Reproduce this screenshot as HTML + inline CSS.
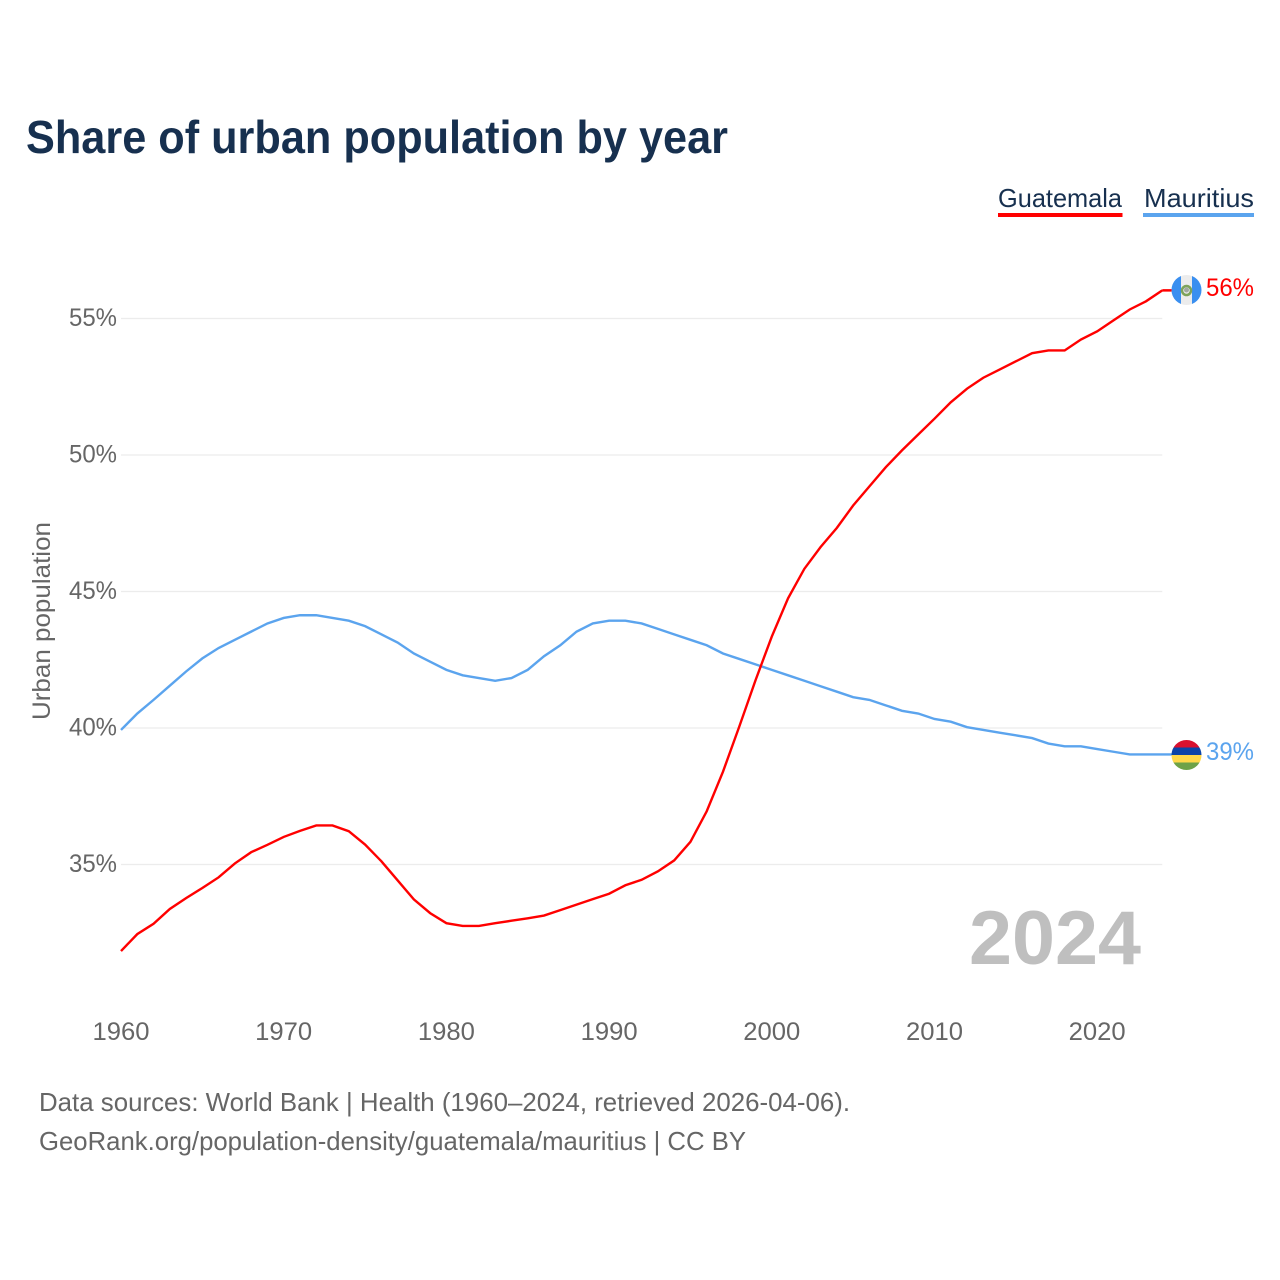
<!DOCTYPE html>
<html lang="en">
<head>
<meta charset="utf-8">
<title>Share of urban population by year</title>
<style>
html,body{margin:0;padding:0;background:#fff;}
svg{display:block;font-family:"Liberation Sans",sans-serif;}
</style>
</head>
<body>
<svg id="chart" xmlns="http://www.w3.org/2000/svg" width="1280" height="1280" viewBox="0 0 1280 1280">
  <rect x="0" y="0" width="1280" height="1280" fill="#ffffff"/>
  <text x="26" y="153" font-size="46" font-weight="700" fill="#17304f" textLength="702" lengthAdjust="spacingAndGlyphs">Share of urban population by year</text>

  <g>
    <text x="998" y="207" font-size="26" fill="#17304f" textLength="124" lengthAdjust="spacingAndGlyphs">Guatemala</text>
    <rect x="998" y="213" width="124.500" height="4" fill="#ff0000"/>
  </g>
  <g>
    <text x="1144" y="207" font-size="26" fill="#17304f" textLength="110" lengthAdjust="spacingAndGlyphs">Mauritius</text>
    <rect x="1143" y="213" width="111" height="4" fill="#5ba4ee"/>
  </g>

  <text transform="translate(50,720) rotate(-90)" x="0" y="0" font-size="25" fill="#666666" textLength="198" lengthAdjust="spacingAndGlyphs">Urban population</text>

  <g id="grid"></g>
  <g id="yticks"></g>
  <g id="xticks"></g>

  <text x="969" y="964" font-size="76" font-weight="700" fill="#bfbfbf" textLength="172" lengthAdjust="spacingAndGlyphs">2024</text>

  <g id="series"></g>

  <g id="flag-gt">
    <defs>
      <clipPath id="clip-gt"><circle cx="1186.500" cy="290" r="15"/></clipPath>
      <clipPath id="clip-mu"><circle cx="1186.500" cy="755" r="15"/></clipPath>
    </defs>
    <g clip-path="url(#clip-gt)">
      <rect x="1171" y="275" width="31" height="30" fill="#ececec"/>
      <rect x="1171" y="275" width="10" height="30" fill="#3a8ff0"/>
      <rect x="1192" y="275" width="10" height="30" fill="#3a8ff0"/>
    </g>
    <circle cx="1186.500" cy="290.500" r="4.500" fill="none" stroke="#7ea35a" stroke-width="2.500"/>
    <circle cx="1186.500" cy="290" r="2.500" fill="#a0a8a0"/>
  </g>
  <g id="flag-mu" clip-path="url(#clip-mu)">
    <rect x="1171" y="740" width="31" height="7.500" fill="#d9112f"/>
    <rect x="1171" y="747.500" width="31" height="7.500" fill="#0c44a8"/>
    <rect x="1171" y="755" width="31" height="7.500" fill="#ffd84a"/>
    <rect x="1171" y="762.500" width="31" height="7.500" fill="#6ea248"/>
  </g>

  <text id="end-label-guatemala" x="1206" y="296" font-size="25" fill="#ff0000" textLength="48" lengthAdjust="spacingAndGlyphs">56%</text>
  <text id="end-label-mauritius" x="1206" y="760" font-size="25" fill="#5ba4ee" textLength="48" lengthAdjust="spacingAndGlyphs">39%</text>

  <text x="39" y="1111" font-size="26" fill="#666666" textLength="811" lengthAdjust="spacingAndGlyphs">Data sources: World Bank | Health (1960–2024, retrieved 2026-04-06).</text>
  <a><text x="39" y="1150" font-size="26" fill="#666666" textLength="707" lengthAdjust="spacingAndGlyphs">GeoRank.org/population-density/guatemala/mauritius | CC BY</text></a>
</svg>
<script>
const startYear = 1960;
const xTickYears = [1960, 1970, 1980, 1990, 2000, 2010, 2020];
const yTickValues = [35, 40, 45, 50, 55];
const guatemala = [31.83, 32.45, 32.83, 33.37, 33.77, 34.14, 34.53, 35.04, 35.45, 35.72, 36.01, 36.23, 36.43, 36.43, 36.22, 35.73, 35.12, 34.42, 33.72, 33.22, 32.85, 32.75, 32.75, 32.85, 32.94, 33.03, 33.13, 33.33, 33.53, 33.73, 33.93, 34.24, 34.44, 34.75, 35.15, 35.83, 36.95, 38.40, 40.05, 41.75, 43.35, 44.75, 45.83, 46.63, 47.33, 48.15, 48.85, 49.55, 50.17, 50.75, 51.33, 51.93, 52.43, 52.83, 53.13, 53.43, 53.73, 53.83, 53.83, 54.23, 54.53, 54.93, 55.33, 55.63, 56.03];
const mauritius = [39.93, 40.53, 41.03, 41.55, 42.07, 42.55, 42.93, 43.23, 43.53, 43.83, 44.03, 44.13, 44.13, 44.03, 43.93, 43.73, 43.43, 43.13, 42.73, 42.43, 42.13, 41.93, 41.83, 41.73, 41.83, 42.13, 42.63, 43.03, 43.53, 43.83, 43.93, 43.93, 43.83, 43.63, 43.43, 43.23, 43.03, 42.73, 42.53, 42.33, 42.13, 41.93, 41.73, 41.53, 41.33, 41.13, 41.03, 40.83, 40.63, 40.53, 40.33, 40.23, 40.03, 39.93, 39.83, 39.73, 39.63, 39.43, 39.33, 39.33, 39.23, 39.13, 39.03, 39.03, 39.03];

const NS = 'http://www.w3.org/2000/svg';
function xScale(year) { return 121 + (year - 1960) * 16.27; }
function yScale(value) { return 318.5 + (55 - value) * 27.3; }

const gridGroup = document.getElementById('grid');
const yTickGroup = document.getElementById('yticks');
const xTickGroup = document.getElementById('xticks');
const seriesGroup = document.getElementById('series');

yTickValues.forEach(function (value) {
  const line = document.createElementNS(NS, 'line');
  
  
  line.setAttribute('x1', xScale(1960));
  line.setAttribute('x2', xScale(2024));
  line.setAttribute('y1', yScale(value));
  line.setAttribute('y2', yScale(value));
  line.setAttribute('stroke', '#ececec');
  line.setAttribute('stroke-width', '1.2');
  gridGroup.appendChild(line);

  const label = document.createElementNS(NS, 'text');
  
  
  label.setAttribute('x', 69);
  label.setAttribute('y', yScale(value) + 7.5);
  label.setAttribute('font-size', '25');
  label.setAttribute('fill', '#666666');
  label.setAttribute('textLength', '48');
  label.setAttribute('lengthAdjust', 'spacingAndGlyphs');
  label.textContent = value + '%';
  yTickGroup.appendChild(label);
});

xTickYears.forEach(function (year) {
  const label = document.createElementNS(NS, 'text');
  
  
  label.setAttribute('x', xScale(year) - 28.5);
  label.setAttribute('y', 1040);
  label.setAttribute('font-size', '25');
  label.setAttribute('fill', '#666666');
  label.setAttribute('textLength', '57');
  label.setAttribute('lengthAdjust', 'spacingAndGlyphs');
  label.textContent = year;
  xTickGroup.appendChild(label);
});

function buildPath(values) {
  return values.map(function (value, i) {
    return (i === 0 ? 'M' : 'L') + xScale(startYear + i).toFixed(2) + ' ' + yScale(value).toFixed(2);
  }).join(' ');
}

function connector(values) {
  const last = values[values.length - 1];
  return 'M' + xScale(2024).toFixed(2) + ' ' + yScale(last).toFixed(2) + ' L1172 ' + yScale(last).toFixed(2);
}

const mauritiusPath = document.createElementNS(NS, 'path');


mauritiusPath.setAttribute('d', buildPath(mauritius) + ' ' + connector(mauritius));
mauritiusPath.setAttribute('fill', 'none');
mauritiusPath.setAttribute('stroke', '#5ba4ee');
mauritiusPath.setAttribute('stroke-width', '2.4');
seriesGroup.appendChild(mauritiusPath);

const guatemalaPath = document.createElementNS(NS, 'path');


guatemalaPath.setAttribute('d', buildPath(guatemala) + ' ' + connector(guatemala));
guatemalaPath.setAttribute('fill', 'none');
guatemalaPath.setAttribute('stroke', '#ff0000');
guatemalaPath.setAttribute('stroke-width', '2.4');
seriesGroup.appendChild(guatemalaPath);
</script>
</body>
</html>
